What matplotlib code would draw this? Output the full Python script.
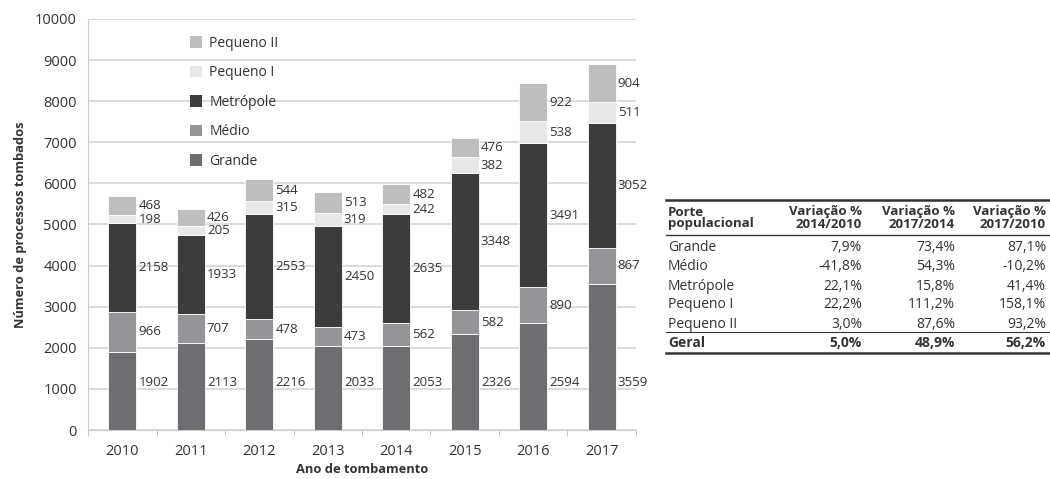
import matplotlib.pyplot as plt
import numpy as np
from matplotlib.lines import Line2D
from matplotlib.patches import Patch

plt.rcParams['font.family'] = ['Open Sans', 'DejaVu Sans']

# dados
anos = ['2010', '2011', '2012', '2013', '2014', '2015', '2016', '2017']
grande = [1902, 2113, 2216, 2033, 2053, 2326, 2594, 3559]
medio = [966, 707, 478, 473, 562, 582, 890, 867]
metropole = [2158, 1933, 2553, 2450, 2635, 3348, 3491, 3052]
pequeno1 = [198, 205, 315, 319, 242, 382, 538, 511]
pequeno2 = [468, 426, 544, 513, 482, 476, 922, 904]

series = [('Grande', grande, '#6d6e71'),
          ('Médio', medio, '#939598'),
          ('Metrópole', metropole, '#3c3c3c'),
          ('Pequeno I', pequeno1, '#e6e7e8'),
          ('Pequeno II', pequeno2, '#bcbec0')]

# tabela de variacao
tab_header = ['Porte\npopulacional', 'Variação %\n2014/2010', 'Variação %\n2017/2014', 'Variação %\n2017/2010']
tab_rows = [['Grande', '7,9%', '73,4%', '87,1%'],
            ['Médio', '-41,8%', '54,3%', '-10,2%'],
            ['Metrópole', '22,1%', '15,8%', '41,4%'],
            ['Pequeno I', '22,2%', '111,2%', '158,1%'],
            ['Pequeno II', '3,0%', '87,6%', '93,2%']]
tab_total = ['Geral', '5,0%', '48,9%', '56,2%']

txt = '#333333'
fig = plt.figure(figsize=(10.5, 4.79), dpi=100)
ax = fig.add_axes([88 / 1050, 49 / 479, 548 / 1050, 411 / 479])

x = np.arange(len(anos))
w = 0.41
bottom = np.zeros(len(anos))
for nome, vals, cor in series:
    vals = np.array(vals)
    ax.bar(x, vals, w, bottom=bottom, color=cor, edgecolor='white', linewidth=0.6, zorder=3)
    for i in range(len(anos)):
        if nome == 'Grande':
            yl = 1150
        else:
            yl = bottom[i] + vals[i] / 2
        ax.text(x[i] + w / 2 + 0.03, yl, str(vals[i]), va='center', ha='left',
                fontsize=9.5, color=txt, zorder=4)
    bottom += vals

ax.set_xlim(-0.5, len(anos) - 0.5)
ax.set_ylim(0, 10000)
ax.set_yticks(range(0, 10001, 1000))
ax.yaxis.grid(True, color='#d9d9d9', linewidth=1.3, zorder=0)
ax.set_xticks(x)
ax.set_xticklabels(anos)
ax.set_xticks(np.arange(-0.5, len(anos)), minor=True)
ax.tick_params(axis='x', which='major', length=0, pad=10, labelsize=10.5, labelcolor=txt)
ax.tick_params(axis='x', which='minor', length=4, color='#bbbbbb')
ax.tick_params(axis='y', length=0, pad=8, labelsize=10.5, labelcolor=txt)
for s in ['top', 'right']:
    ax.spines[s].set_visible(False)
ax.spines['left'].set_color('#cccccc')
ax.spines['bottom'].set_color('#cccccc')

ax.set_ylabel('Número de processos tombados', fontsize=9.3, fontweight='bold', color=txt, labelpad=6)
ax.set_xlabel('Ano de tombamento', fontsize=9.3, fontweight='bold', color=txt, labelpad=3)

handles = [Patch(facecolor=c, edgecolor='none', label=n) for n, v, c in series[::-1]]
ax.legend(handles=handles, loc='upper left', bbox_to_anchor=(0.163, 0.99), frameon=False,
          fontsize=10, handlelength=0.9, handleheight=0.9, handletextpad=0.5,
          labelspacing=1.05, labelcolor=txt)

# tabela ao lado
def fx(px):
    return px / 1050

def fy(py):
    return 1 - py / 479

x0, x1 = 666, 1050
tx = 668
cols_r = [None, 862, 955, 1046]
fs = 10
fig.add_artist(Line2D([fx(x0), fx(x1)], [fy(200), fy(200)], color='#333333', linewidth=1.8))
for j, h in enumerate(tab_header):
    if j == 0:
        fig.text(fx(tx), fy(218), h, ha='left', va='center', fontsize=9.5,
                 fontweight='bold', color=txt, linespacing=0.9)
    else:
        fig.text(fx(cols_r[j]), fy(218), h, ha='right', va='center', fontsize=9.5,
                 fontweight='bold', color=txt, linespacing=0.9, multialignment='right')
fig.add_artist(Line2D([fx(x0), fx(x1)], [fy(235), fy(235)], color='#333333', linewidth=1.0))
for i, row in enumerate(tab_rows):
    yy = fy(248 + i * 19)
    for j, v in enumerate(row):
        if j == 0:
            fig.text(fx(tx), yy, v, ha='left', va='center', fontsize=fs, color=txt)
        else:
            fig.text(fx(cols_r[j]), yy, v, ha='right', va='center', fontsize=fs, color=txt)
fig.add_artist(Line2D([fx(x0), fx(x1)], [fy(332), fy(332)], color='#333333', linewidth=0.8))
for j, v in enumerate(tab_total):
    if j == 0:
        fig.text(fx(tx), fy(343), v, ha='left', va='center', fontsize=fs, fontweight='bold', color=txt)
    else:
        fig.text(fx(cols_r[j]), fy(343), v, ha='right', va='center', fontsize=fs, fontweight='bold', color=txt)
fig.add_artist(Line2D([fx(x0), fx(x1)], [fy(353), fy(353)], color='#333333', linewidth=1.8))

plt.savefig('out.png', dpi=100)
